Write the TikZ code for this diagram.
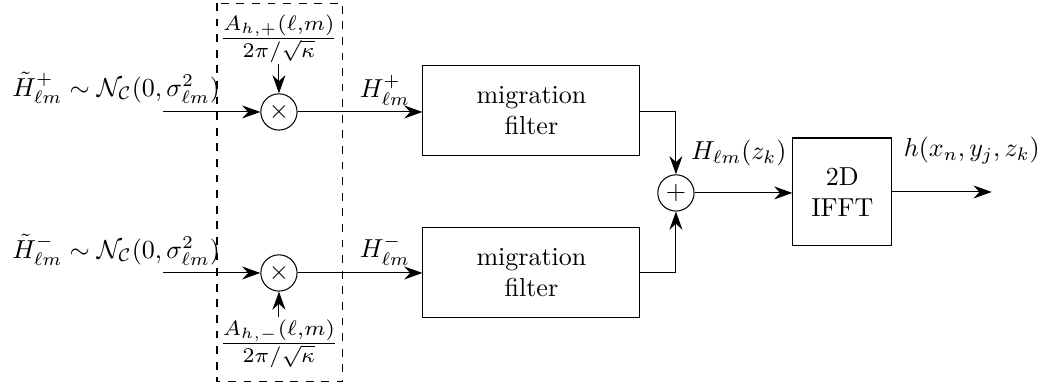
\documentclass[tikz,border=0pt]{standalone}
\usepackage{amsmath}
\usepackage{amssymb}
\usetikzlibrary{arrows.meta}

\begin{document}
\begin{tikzpicture}[>={Stealth[length=7pt,width=5pt]}]
  \tikzset{blk/.style={draw,align=center,minimum width=2.934cm,minimum height=1.217cm},
           op/.style={draw,circle,inner sep=0pt,minimum size=0.49cm},
           fftblk/.style={draw,align=center,minimum width=1.338cm,minimum height=1.46cm},
           gain/.style={scale=1.15}}
  \useasboundingbox (0,0) rectangle (14.09,-5.205);
  % multipliers and their gains
  \node [op] (mulp) at (3.772,-1.514) {$\times$};
  \node [op] (mulm) at (3.772,-3.691) {$\times$};
  \node [gain] (gainp) at (3.772,-0.52) {$\frac{A_{h,+}(\ell,m)}{2\pi/\sqrt{\kappa}}$};
  \node [gain] (gainm) at (3.772,-4.65) {$\frac{A_{h,-}(\ell,m)}{2\pi/\sqrt{\kappa}}$};
  \draw [dashed] (2.934,-0.041) rectangle (4.637,-5.165);
  % inputs
  \node (inp) at (1.57,-1.19) {$\tilde{H}^{+}_{\ell m}\sim\mathcal{N}_{\mathcal{C}}(0,\sigma^2_{\ell m})$};
  \node (inm) at (1.57,-3.38) {$\tilde{H}^{-}_{\ell m}\sim\mathcal{N}_{\mathcal{C}}(0,\sigma^2_{\ell m})$};
  \coordinate (srcp) at (2.204,-1.514);
  \coordinate (srcm) at (2.204,-3.691);
  \coordinate (gp) at (3.772,-0.865);
  \coordinate (gm) at (3.772,-4.286);
  % filters
  \node [blk] (filtp) at (7.186,-1.50) {migration\\filter};
  \node [blk] (filtm) at (7.186,-3.691) {migration\\filter};
  \node (hp) at (5.205,-1.217) {$H^{+}_{\ell m}$};
  \node (hm) at (5.205,-3.38) {$H^{-}_{\ell m}$};
  % sum and ifft
  \node [op] (sum) at (9.140,-2.609) {$+$};
  \node [fftblk] (ifft) at (11.39,-2.596) {2D\\IFFT};
  \node (hz) at (9.99,-2.07) {$H_{\ell m}(z_k)$};
  \node (hout) at (13.14,-2.03) {$h(x_n,y_j,z_k)$};
  \coordinate (out) at (13.41,-2.596);

  \draw [->] (srcp) -- (mulp);
  \draw [->] (srcm) -- (mulm);
  \draw [->] (gp) -- (mulp);
  \draw [->] (gm) -- (mulm);
  \draw [->] (mulp) -- (filtp.west |- mulp);
  \draw [->] (mulm) -- (filtm);
  \draw [->] (filtp.east |- mulp) -| (sum);
  \draw [->] (filtm) -| (sum);
  \draw [->] (sum) -- (ifft.west |- sum);
  \draw [->] (ifft.east |- out) -- (out);
\end{tikzpicture}
\end{document}
